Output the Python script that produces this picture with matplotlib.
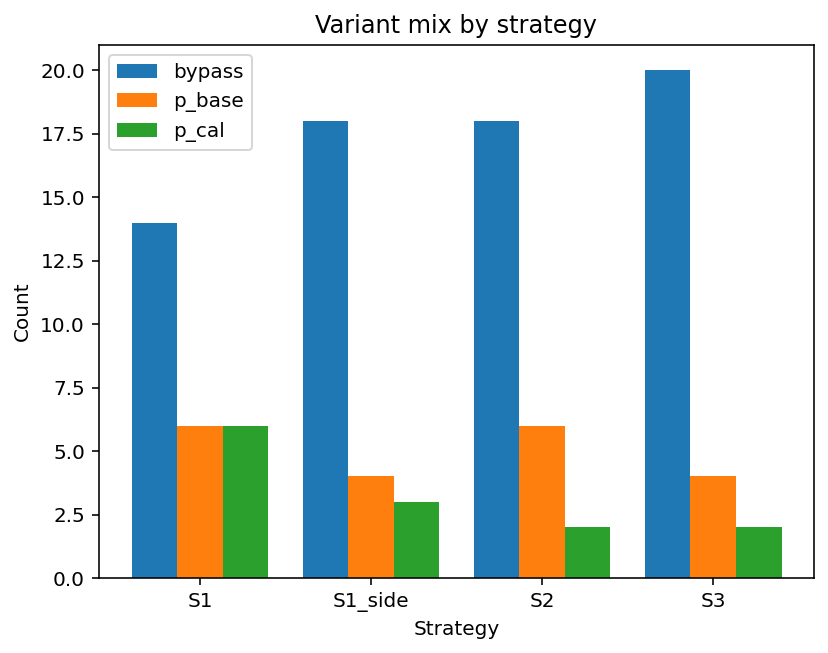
import matplotlib
matplotlib.use("Agg")
import matplotlib.pyplot as plt
import numpy as np

strategies = ["S1", "S1_side", "S2", "S3"]
bypass = [14, 18, 18, 20]
p_base = [6, 4, 6, 4]
p_cal = [6, 3, 2, 2]
series_names = ["bypass", "p_base", "p_cal"]

fig = plt.figure(figsize=(828/144, 653/144), dpi=144)
ax = fig.add_axes([99/828, 1-578/653, (814-99)/828, (578-45)/653])
x = np.arange(len(strategies))
w = 0.8 / 3
for i, (name, vals) in enumerate(zip(series_names, [bypass, p_base, p_cal])):
    ax.bar(x + (i - 1) * w, vals, w, label=name)
ax.set_xticks(x)
ax.set_xticklabels(strategies)
ax.set_xlabel("Strategy")
ax.set_ylabel("Count")
ax.set_title("Variant mix by strategy")
ax.legend(loc="upper left")
fig.savefig("out.png", dpi=144)
